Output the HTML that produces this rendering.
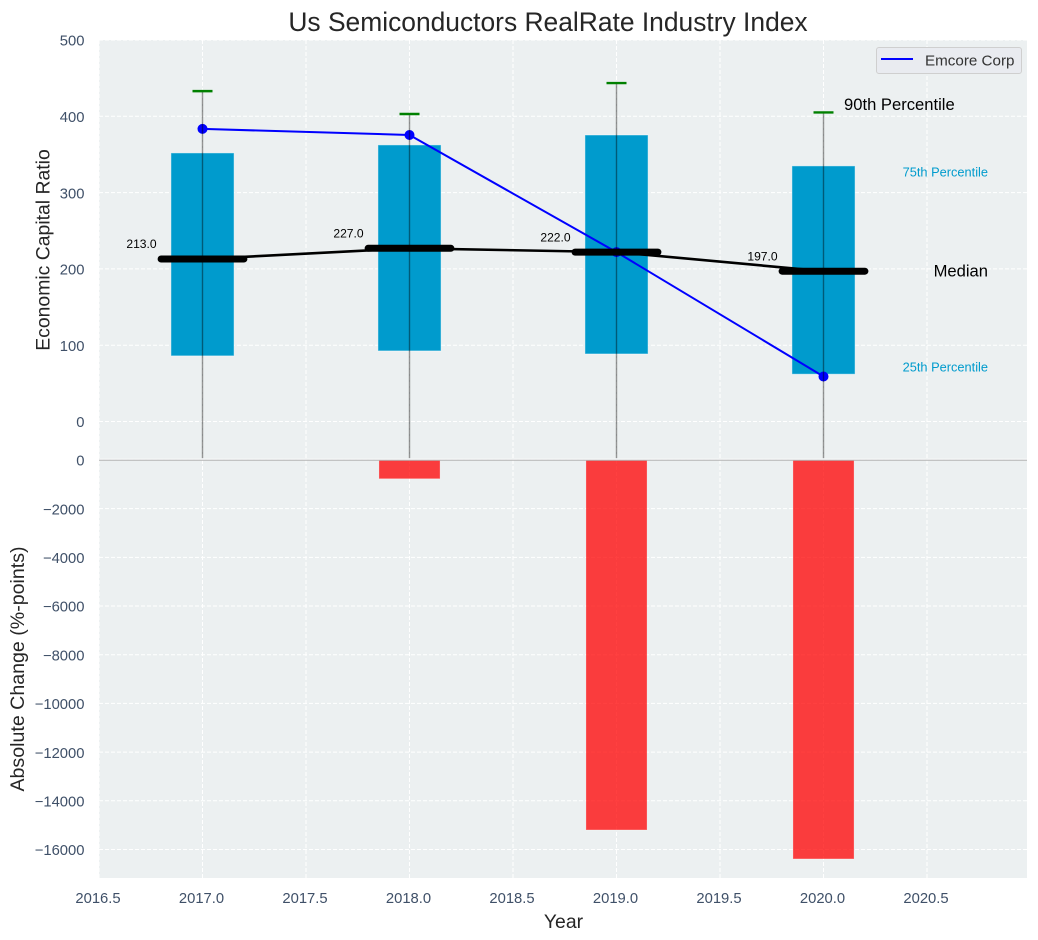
<!DOCTYPE html>
<html lang="en">
<head>
<meta charset="utf-8">
<title>Us Semiconductors RealRate Industry Index</title>
<style>
  html, body { margin: 0; padding: 0; background: #ffffff; }
  body { width: 1038px; height: 940px; overflow: hidden; }
  svg { display: block; }
  text { font-family: "Liberation Sans", Arial, sans-serif; }
</style>
</head>
<body>
<svg id="chart" xmlns="http://www.w3.org/2000/svg" width="1038" height="940" viewBox="0 0 1038 940"></svg>
<script>
// ---- chart data ----
const years = [2017, 2018, 2019, 2020];
const p90 = [433, 403, 443.6, 405];
const p75 = [352, 362.5, 375.5, 335];
const median = [213, 227, 222, 197];
const p25 = [86, 92.5, 88.5, 62];
const whiskerLow = [-48, -48, -48, -48];
const company = [383.5, 375.5, 222, 59];
const absoluteChange = [0, -770, -15200, -16390];
const xTicks = [2016.5, 2017, 2017.5, 2018, 2018.5, 2019, 2019.5, 2020, 2020.5];
const topTicks = [500, 400, 300, 200, 100, 0];
const bottomTicks = [0, -2000, -4000, -6000, -8000, -10000, -12000, -14000, -16000];

// ---- axis functions ----
const xScale = v => 99 + (v - 2016.5) * 207;
const yTop = v => 421.5 - v * 0.763;
const yBottom = v => 460 - v * 0.02434;

const NS = 'http://www.w3.org/2000/svg';
const svg = document.getElementById('chart');
const TICK = '#3f5068';

function mk(tag, attrs, txt) {
  const n = document.createElementNS(NS, tag);
  for (const k in attrs) n.setAttribute(k, attrs[k]);
  if (txt !== undefined) n.textContent = txt;
  svg.appendChild(n);
  return n;
}
let el;

// panels
el = mk('rect', { x: 99, y: 40, width: 928, height: 420, fill: '#ecf0f1' });


el = mk('rect', { x: 99, y: 460, width: 928, height: 418, fill: '#ecf0f1' });



// grid
xTicks.forEach(t => {
  el = mk('line', { x1: xScale(t), x2: xScale(t), y1: 40, y2: 878, stroke: '#ffffff', 'stroke-width': 1, 'stroke-dasharray': '4 2' });
  
  
});
topTicks.forEach(t => {
  el = mk('line', { x1: 99, x2: 1027, y1: yTop(t), y2: yTop(t), stroke: '#ffffff', 'stroke-width': 1, 'stroke-dasharray': '4 2' });
  
  
});
bottomTicks.forEach(t => {
  el = mk('line', { x1: 99, x2: 1027, y1: yBottom(t), y2: yBottom(t), stroke: '#ffffff', 'stroke-width': 1, 'stroke-dasharray': '4 2' });
  
  
});

// interquartile bars
years.forEach((yr, i) => {
  const w = 0.305 * 207;
  el = mk('rect', { x: xScale(yr) - w / 2, y: yTop(p75[i]), width: w, height: yTop(p25[i]) - yTop(p75[i]), fill: '#009bcd', stroke: 'rgba(255,255,255,0.45)', 'stroke-width': 1 });
  
  
});

// change bars
years.forEach((yr, i) => {
  if (absoluteChange[i] === 0) return;
  const w = 0.295 * 207;
  el = mk('rect', { x: xScale(yr) - w / 2, y: yBottom(0), width: w, height: yBottom(absoluteChange[i]) - yBottom(0), fill: 'rgba(255,0,0,0.75)', stroke: 'rgba(255,255,255,0.25)', 'stroke-width': 1 });
  
  
});

// zero line between panels
el = mk('line', { x1: 99, x2: 1027, y1: 459.2, y2: 459.2, stroke: '#f6f7f8', 'stroke-width': 1.4 });


el = mk('line', { x1: 99, x2: 1027, y1: 460.3, y2: 460.3, stroke: '#b4b4b4', 'stroke-width': 1 });



// company line
el = mk('polyline', { points: years.map((yr, i) => xScale(yr) + ',' + yTop(company[i])).join(' '), fill: 'none', stroke: '#0000ff', 'stroke-width': 2 });


years.forEach((yr, i) => {
  el = mk('circle', { cx: xScale(yr), cy: yTop(company[i]), r: 5, fill: '#0000ff' });
  
  
});

// whiskers
years.forEach((yr, i) => {
  el = mk('line', { x1: xScale(yr), x2: xScale(yr), y1: yTop(p90[i]), y2: yTop(whiskerLow[i]), stroke: 'rgba(0,0,0,0.42)', 'stroke-width': 1.4 });
  
  
  el = mk('line', { x1: xScale(yr) - 10, x2: xScale(yr) + 10, y1: yTop(p90[i]), y2: yTop(p90[i]), stroke: '#008000', 'stroke-width': 2.4 });
  
  
});

// median line and markers
el = mk('polyline', { points: years.map((yr, i) => xScale(yr) + ',' + yTop(median[i])).join(' '), fill: 'none', stroke: '#000000', 'stroke-width': 2.6 });


years.forEach((yr, i) => {
  el = mk('line', { x1: xScale(yr - 0.2), x2: xScale(yr + 0.2), y1: yTop(median[i]), y2: yTop(median[i]), stroke: '#000000', 'stroke-width': 7, 'stroke-linecap': 'round' });
  
  
  el = mk('text', { x: xScale(yr) - 61, y: yTop(median[i]) - 15, dy: '0.35em', 'text-anchor': 'middle', 'font-size': 12.1, fill: '#000000' }, median[i].toFixed(1));
  
  
});

// tick labels
xTicks.forEach(t => {
  el = mk('text', { x: xScale(t) - 1, y: 898, dy: '0.35em', 'text-anchor': 'middle', 'font-size': 14.8, fill: TICK }, t.toFixed(1));
  
  
});
topTicks.forEach(t => {
  el = mk('text', { x: 84.5, y: yTop(t) + 0.5, dy: '0.35em', 'text-anchor': 'end', 'font-size': 14.8, fill: TICK }, String(t));
  
  
});
bottomTicks.forEach(t => {
  el = mk('text', { x: 84.5, y: yBottom(t) + 0.5, dy: '0.35em', 'text-anchor': 'end', 'font-size': 14.8, fill: TICK }, String(t).replace('-', '\u2212'));
  
  
});

// titles
el = mk('text', { x: 548, y: 22, dy: '0.35em', 'text-anchor': 'middle', 'font-size': 26.4, fill: '#262626' }, 'Us Semiconductors RealRate Industry Index');


el = mk('text', { x: 563.5, y: 921, dy: '0.35em', 'text-anchor': 'middle', 'font-size': 19.4, fill: '#262626' }, 'Year');


el = mk('text', { transform: 'translate(42.5 250) rotate(-90)', dy: '0.35em', 'text-anchor': 'middle', 'font-size': 19.4, fill: '#262626' }, 'Economic Capital Ratio');


el = mk('text', { transform: 'translate(17 669) rotate(-90)', dy: '0.35em', 'text-anchor': 'middle', 'font-size': 19.6, fill: '#262626' }, 'Absolute Change (%-points)');



// percentile annotations
el = mk('text', { x: 844, y: 104, dy: '0.35em', 'font-size': 16.6, fill: '#000000' }, '90th Percentile');


el = mk('text', { x: 988, y: 172, dy: '0.35em', 'text-anchor': 'end', 'font-size': 12.8, fill: '#009bcd' }, '75th Percentile');


el = mk('text', { x: 988, y: 270.5, dy: '0.35em', 'text-anchor': 'end', 'font-size': 16.6, fill: '#000000' }, 'Median');


el = mk('text', { x: 988, y: 367, dy: '0.35em', 'text-anchor': 'end', 'font-size': 12.8, fill: '#009bcd' }, '25th Percentile');



// legend
el = mk('rect', { x: 876.5, y: 47.5, width: 145, height: 26, rx: 2.5, fill: '#e9ebf0', stroke: '#cfcfcf', 'stroke-width': 1 });


el = mk('line', { x1: 881, x2: 913, y1: 59, y2: 59, stroke: '#0000ff', 'stroke-width': 2 });


el = mk('text', { x: 925, y: 60, dy: '0.35em', 'font-size': 15.2, fill: '#333333' }, 'Emcore Corp');


</script>
</body>
</html>
